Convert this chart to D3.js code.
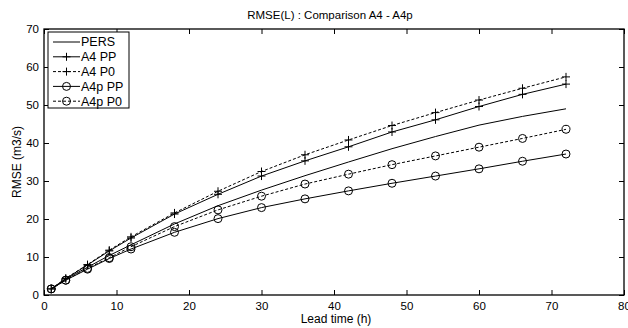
<!DOCTYPE html>
<html>
<head>
  <title>RMSE(L) : Comparison A4 - A4p</title>
  <style>
    body { margin: 0; background: #fff; overflow: hidden; }
    svg { display: block; }
    text { font-family: 'Liberation Sans', Arial, sans-serif; font-size: 11.5px; fill: #000; }
  </style>
</head>
<body>
  <div id="chart-container"></div>
  <script src="https://d3js.org/d3.v7.min.js"></script>
  <script>
    // lead times (h)
    const leadTimes = [1, 3, 6, 9, 12, 18, 24, 30, 36, 42, 48, 54, 60, 66, 72];

    const pers   = [1.6, 4.2, 7.3, 10.4, 13.2, 18.7, 23.5, 27.6, 31.4, 35.0, 38.5, 41.7, 44.7, 47.0, 49.0];
    const a4PP   = [1.6, 4.3, 7.9, 11.6, 15.0, 21.3, 26.5, 31.3, 35.3, 39.0, 42.9, 46.1, 49.6, 52.8, 55.5];
    const a4P0   = [1.6, 4.4, 8.0, 11.8, 15.3, 21.6, 27.3, 32.5, 36.9, 40.8, 44.6, 48.0, 51.3, 54.4, 57.4];
    const a4pPP  = [1.6, 3.9, 6.8, 9.6, 12.1, 16.5, 20.1, 23.0, 25.3, 27.4, 29.4, 31.3, 33.2, 35.2, 37.1];
    const a4pP0  = [1.6, 3.9, 7.0, 9.8, 12.7, 18.0, 22.4, 26.0, 29.2, 31.8, 34.3, 36.6, 38.9, 41.2, 43.6];

    const xTicks = [0, 10, 20, 30, 40, 50, 60, 70, 80];
    const yTicks = [0, 10, 20, 30, 40, 50, 60, 70];

    const series = [
      { name: 'PERS', values: pers, dash: null, marker: 'none' },
      { name: 'A4 PP', values: a4PP, dash: null, marker: 'plus' },
      { name: 'A4 P0', values: a4P0, dash: '3,2', marker: 'plus' },
      { name: 'A4p PP', values: a4pPP, dash: null, marker: 'circle' },
      { name: 'A4p P0', values: a4pP0, dash: '3,2', marker: 'circle' },
    ];

    const width = 628;
    const height = 328;
    const margin = { top: 29, right: 4, bottom: 33, left: 44 };
    const innerWidth = width - margin.left - margin.right;
    const innerHeight = height - margin.top - margin.bottom;

    const svg = d3.select('#chart-container')
      .append('svg')
      .attr('width', width)
      .attr('height', height);

    const g = svg.append('g')
      .attr('transform', `translate(${margin.left},${margin.top})`);

    const xScale = d3.scaleLinear().domain([0, 80]).range([0, innerWidth]);
    const yScale = d3.scaleLinear().domain([0, 70]).range([innerHeight, 0]);

    // axes, ticks pointing inward like matlab
    const tickLen = 5;
    g.append('g')
      .attr('transform', `translate(0,${innerHeight})`)
      .call(d3.axisBottom(xScale).tickValues(xTicks).tickSizeInner(-tickLen).tickSizeOuter(0).tickPadding(7))
      .call(a => a.select('.domain').remove());
    g.append('g')
      .call(d3.axisTop(xScale).tickValues(xTicks).tickSizeInner(-tickLen).tickSizeOuter(0))
      .call(a => a.select('.domain').remove())
      .call(a => a.selectAll('text').remove());
    g.append('g')
      .call(d3.axisLeft(yScale).tickValues(yTicks).tickSizeInner(-tickLen).tickSizeOuter(0).tickPadding(5))
      .call(a => a.select('.domain').remove());
    g.append('g')
      .attr('transform', `translate(${innerWidth},0)`)
      .call(d3.axisRight(yScale).tickValues(yTicks).tickSizeInner(-tickLen).tickSizeOuter(0))
      .call(a => a.select('.domain').remove())
      .call(a => a.selectAll('text').remove());

    g.selectAll('.tick text').style('font-size', '11.5px').style('font-family', "'Liberation Sans', Arial, sans-serif");
    g.selectAll('.tick line').attr('stroke', '#000');

    g.append('rect')
      .attr('width', innerWidth)
      .attr('height', innerHeight)
      .attr('fill', 'none')
      .attr('stroke', '#000')
      .attr('stroke-width', 1.3);

    const lineGenerator = d3.line()
      .x((d, i) => xScale(leadTimes[i]))
      .y(d => yScale(d));

    function drawMarker(sel, type, x, y) {
      if (type === 'plus') {
        sel.append('path')
          .attr('d', `M${x - 4},${y}H${x + 4}M${x},${y - 4}V${y + 4}`)
          .attr('stroke', '#000')
          .attr('stroke-width', 1);
      } else if (type === 'circle') {
        sel.append('circle')
          .attr('cx', x)
          .attr('cy', y)
          .attr('r', 4)
          .attr('fill', 'none')
          .attr('stroke', '#000')
          .attr('stroke-width', 1);
      }
    }

    series.forEach(s => {
      g.append('path')
        .datum(s.values)
        .attr('fill', 'none')
        .attr('stroke', '#000')
        .attr('stroke-width', 1)
        .attr('stroke-dasharray', s.dash)
        .attr('d', lineGenerator);
      const mg = g.append('g');
      s.values.forEach((v, i) => drawMarker(mg, s.marker, xScale(leadTimes[i]), yScale(v)));
    });

    // title and axis labels
    svg.append('text')
      .attr('text-anchor', 'middle')
      .attr('x', margin.left + innerWidth / 2 - 4)
      .attr('y', 19)
      .text('RMSE(L) : Comparison A4 - A4p');

    svg.append('text')
      .attr('text-anchor', 'middle')
      .style('font-size', '12px')
      .attr('x', margin.left + innerWidth / 2 + 2)
      .attr('y', 323)
      .text('Lead time (h)');

    svg.append('text')
      .attr('text-anchor', 'middle')
      .style('font-size', '12px')
      .attr('transform', `translate(21,${margin.top + innerHeight / 2}) rotate(-90)`)
      .text('RMSE (m3/s)');

    // legend
    const legend = svg.append('g')
      .attr('transform', 'translate(48,32)');

    legend.append('rect')
      .attr('width', 81)
      .attr('height', 76)
      .attr('fill', '#fff')
      .attr('stroke', '#000')
      .attr('stroke-width', 1);

    series.forEach((s, i) => {
      const y = 10 + i * 14.8;
      const item = legend.append('g');
      item.append('line')
        .attr('x1', 5)
        .attr('x2', 32)
        .attr('y1', y)
        .attr('y2', y)
        .attr('stroke', '#000')
        .attr('stroke-width', 1)
        .attr('stroke-dasharray', s.dash);
      drawMarker(item, s.marker, 18.5, y);
      item.append('text')
        .attr('x', 33)
        .attr('y', y)
        .attr('dy', '0.35em')
        .style('font-size', '12.5px')
        .text(s.name);
    });
  </script>
</body>
</html>
